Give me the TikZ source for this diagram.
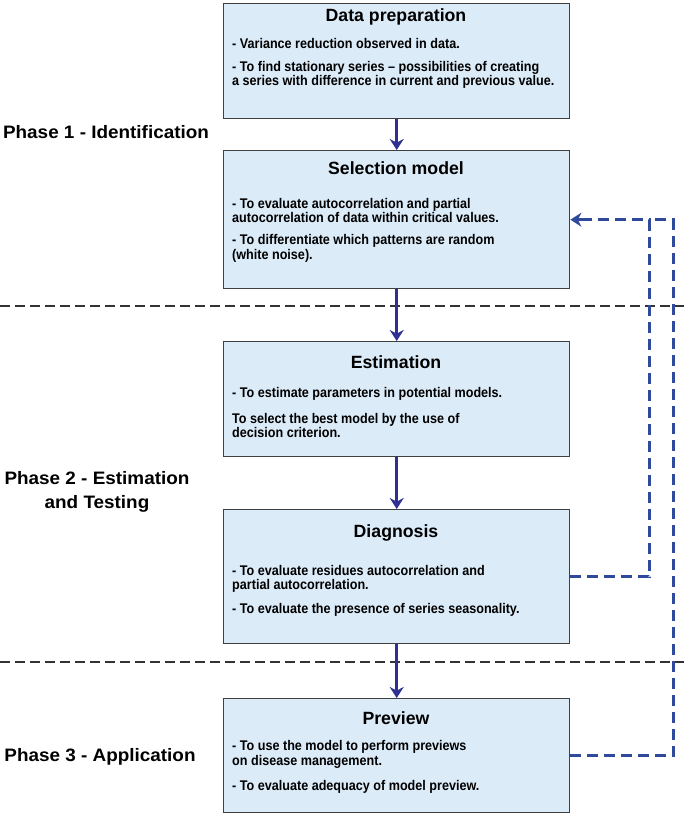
\documentclass[tikz,border=0pt]{standalone}
\usepackage{fontspec}
\setmainfont{Liberation Sans}
\newfontfamily\bodyf{Liberation Sans}[FakeStretch=0.9]
\newfontfamily\ttlf{Liberation Sans}
\newfontfamily\phf{Liberation Sans}[FakeStretch=1.05]
\usetikzlibrary{arrows.meta,calc}
\definecolor{boxblue}{HTML}{DCEBF8}
\definecolor{navy}{HTML}{2E3192}
\definecolor{fbblue}{HTML}{2F4A9A}
\begin{document}
\begin{tikzpicture}[x=1pt,y=-1pt,
  box/.style={draw=black!75, line width=1.4pt, fill=boxblue, rectangle, inner sep=0pt, anchor=north west, minimum width=346pt},
  ttl/.style={font=\ttlf\bfseries\fontsize{17.7}{20}\selectfont, inner sep=0pt},
  body/.style={font=\bodyf\bfseries\fontsize{14}{14.5}\selectfont, anchor=west, align=left, inner sep=0pt},
  flow/.style={draw=navy, line width=2.6pt, -{Stealth[length=11pt,width=14pt]}},
  fb/.style={draw=fbblue, line width=2.6pt, dash pattern=on 11pt off 6pt},
  phase/.style={font=\phf\bfseries\fontsize{18}{24}\selectfont, align=center, inner sep=0pt},
  sep/.style={draw=black!80, line width=2.4pt, dash pattern=on 10pt off 5pt}]
\useasboundingbox (0,0) rectangle (684,814);

% separators
\coordinate (s1l) at (0,306); \coordinate (s1r) at (684,306);
\coordinate (s2l) at (0,662); \coordinate (s2r) at (684,662);
\draw[sep] (s1l) -- (s1r);
\draw[sep] (s2l) -- (s2r);

% boxes
\node[box, minimum height=115pt] (b1) at (223,3) {};
\node[box, minimum height=138pt] (b2) at (223,150) {};
\node[box, minimum height=115pt] (b3) at (223,341) {};
\node[box, minimum height=134pt] (b4) at (223,509) {};
\node[box, minimum height=114pt] (b5) at (223,698) {};

% texts
\node[ttl] (t1) at (396,17) {Data preparation};
\node[body] (t1a) at (232,43) {- Variance reduction observed in data.};
\node[body] (t1b) at (232,75) {- To find stationary series – possibilities of creating\\a series with difference in current and previous value.};

\node[ttl] (t2) at (396,168) {Selection model};
\node[body] (t2a) at (232,210.5) {- To evaluate autocorrelation and partial\\autocorrelation of data within critical values.};
\node[body] (t2b) at (232,248.5) {- To differentiate which patterns are random\\(white noise).};

\node[ttl] (t3) at (396,362) {Estimation};
\node[body] (t3a) at (232,394) {- To estimate parameters in potential models.};
\node[body] (t3b) at (232,425.5) {To select the best model by the use of\\decision criterion.};

\node[ttl] (t4) at (396,533) {Diagnosis};
\node[body] (t4a) at (232,579) {- To evaluate residues autocorrelation and\\partial autocorrelation.};
\node[body] (t4b) at (232,610) {- To evaluate the presence of series seasonality.};

\node[ttl] (t5) at (396,718) {Preview};
\node[body] (t5a) at (232,754.5) {- To use the model to perform previews\\on disease management.};
\node[body] (t5b) at (232,787) {- To evaluate adequacy of model preview.};

% phase labels
\node[phase] (p1) at (106,132) {Phase 1 - Identification};
\node[phase] (p2) at (97,492) {Phase 2 - Estimation\\and Testing};
\node[phase] (p3) at (100,757) {Phase 3 - Application};

% flow arrows
\draw[flow] (b1.south) -- (b2.north);
\draw[flow] (b2.south) -- (b3.north);
\draw[flow] (b3.south) -- (b4.north);
\draw[flow] (b4.south) -- (b5.north);

% feedback
\coordinate (fa) at ($(b2.east)+(79,0)$);
\coordinate (fbb) at ($(b2.east)+(103,0)$);
\coordinate (fin) at ($(b2.east)+(18,0)$);
\draw[fb] (b4.east) -| (fa) -- (fin);
\draw[fb] (b5.east) -| (fbb) -- (fa);
\draw[flow, draw=fbblue] ($(b2.east)+(22,0)$) -- (b2.east);
\end{tikzpicture}
\end{document}
